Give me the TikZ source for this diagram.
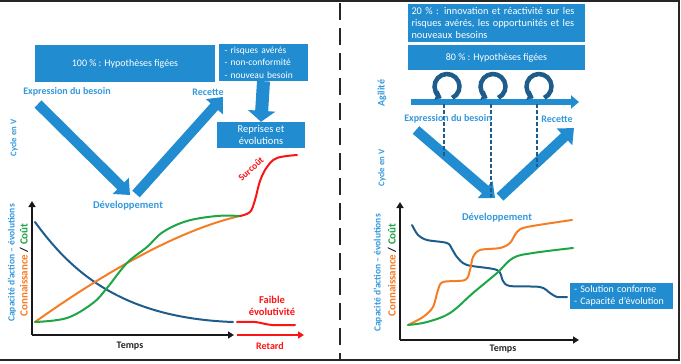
\documentclass[tikz,border=0pt]{standalone}
\usepackage{fontspec}
\setmainfont{Carlito}
\usetikzlibrary{arrows.meta,calc}
\definecolor{boxblue}{RGB}{33,140,208}
\definecolor{lblblue}{RGB}{52,152,219}
\definecolor{dkblue}{RGB}{30,92,140}
\definecolor{corange}{RGB}{245,125,35}
\definecolor{cgreen}{RGB}{30,165,70}
\definecolor{cred}{RGB}{250,20,20}
\begin{document}
\begin{tikzpicture}[x=1pt,y=-1pt,
  box/.style={fill=boxblue, text=white, font=\fontsize{10}{12}\selectfont, inner sep=2pt},
  lbl/.style={text=lblblue, font=\bfseries\fontsize{10}{12}\selectfont, inner sep=1pt},
  redlbl/.style={text=cred, font=\bfseries\fontsize{10}{12}\selectfont, inner sep=1pt, align=center},
  blk/.style={text=black!85, font=\bfseries\fontsize{10}{12}\selectfont, inner sep=1pt},
  axlbl/.style={text=lblblue, font=\bfseries\fontsize{9.5}{11}\selectfont, inner sep=1pt, rotate=90},
  axlblb/.style={font=\bfseries\fontsize{11}{13}\selectfont, inner sep=1pt, rotate=90},
  fat/.style={boxblue, line width=10pt, -{Triangle[width=22pt,length=13pt]}},
  curve/.style={line width=2pt, line cap=round, line join=round},
  axis/.style={black!90, line width=1.8pt, -{Triangle[width=7pt,length=6pt]}},
  dashline/.style={dkblue, line width=1.5pt, dash pattern=on 4pt off 2pt},
  loopar/.style={dkblue, line width=4.5pt, -{Triangle[width=10pt,length=6pt]}},
]
\useasboundingbox (0,0) rectangle (681,364);
% frame
\draw[black!85, line width=2pt] (0,1) -- (679,1) -- (679,359.5) -- (0,359.5);
\draw[black!85, line width=2pt, dash pattern=on 17pt off 8pt] (340,3) -- (340,360);

%================ LEFT PANEL ================
\node[box, minimum width=180, minimum height=37] (hyp) at (125,63.5) {100 \% : Hypothèses figées};
\node[box, minimum width=89, minimum height=37, text width=78, align=left, font=\fontsize{9.5}{12.5}\selectfont] (risk) at (263.5,62.5) {- risques avérés\\- non-conformité\\- nouveau besoin};
\node[box, minimum width=88, minimum height=26, align=center, font=\fontsize{10.5}{12.5}\selectfont] (rep) at (261,135) {Reprises et\\évolutions};
\draw[boxblue, line width=13pt, -{Triangle[width=27pt,length=11pt]}] (risk.south) -- (rep.north);

\node[lbl] (exp1) at (67,92) {Expression du besoin};
\node[lbl] (rec1) at (208,92) {Recette};
\node[lbl, font=\bfseries\fontsize{10.5}{12}\selectfont] (dev1) at (128,206) {Développement};
\node[lbl, rotate=90, font=\bfseries\fontsize{8.7}{10}\selectfont] (cyc1) at (14,138) {Cycle en V};

\coordinate (v1a) at (38,104);
\coordinate (v1b) at (130,195);
\coordinate (v1c) at (136,194);
\coordinate (v1d) at (223,97);
\draw[fat] (v1a) -- (v1b);
\draw[fat] (v1c) -- (v1d);

% axes
\coordinate (o1) at (32,335);
\coordinate (y1) at (32,201);
\coordinate (x1) at (234,335);
\coordinate (r1a) at (237,335);
\coordinate (r1b) at (304,335);
\draw[axis] (o1) -- (y1);
\draw[axis] (o1) -- (x1);
\draw[cred, line width=1.8pt, -{Triangle[width=7pt,length=6pt]}] (r1a) -- (r1b);

\node[blk] (tps1) at (130,346) {Temps};
\node[redlbl] (ret1) at (270,346) {Retard};
\node[redlbl, font=\bfseries\fontsize{10.5}{12.5}\selectfont] (fai1) at (272,306) {Faible\\évolutivité};
\node[axlbl] (cap1) at (12,263) {Capacité d'action – évolutions};
\node[axlblb] (con1) at (24,270) {\textcolor{corange}{Connaissance} \textcolor{black}{/} \textcolor{cgreen}{Coût}};

% curves
\draw[curve, dkblue] (35,222) .. controls (70,270) and (120,318) .. (233,322);
\draw[curve, corange] (35,322) .. controls (90,283) and (170,232) .. (240,216);
\draw[curve, cgreen] plot[smooth, tension=0.6] coordinates {(35,322) (67,318) (93,303) (107,288) (127,263) (147,247) (163,232) (187,221) (217,216) (240,216)};
\draw[curve, cred] plot[smooth, tension=0.6] coordinates {(240,216) (250,212) (255,200) (260,181) (267,167) (277,158) (297,155)};
\draw[curve, cred] plot[smooth, tension=0.6] coordinates {(237,322) (255,322) (272,325) (295,325)};
\node[redlbl, rotate=42, font=\bfseries\fontsize{9.5}{11}\selectfont, inner sep=0pt] (sur1) at (251,169) {Surcoût};

%================ RIGHT PANEL ================
\node[box, minimum width=177, minimum height=38, text width=170, align=left, font=\fontsize{10.3}{12}\selectfont] (inn) at (496.5,23) {20 \% : innovation et réactivité sur les\\risques avérés, les opportunités et les\\nouveaux besoins};
\node[box, minimum width=177, minimum height=25] (hyp2) at (496.5,57.5) {80 \% : Hypothèses figées};

\node[lbl, rotate=90] (agi) at (382,93) {Agilité};
\node[lbl, rotate=90, font=\bfseries\fontsize{8.7}{10}\selectfont] (cyc2) at (382,168) {Cycle en V};

\coordinate (ha) at (411,102);
\coordinate (hb) at (579,102);
\draw[boxblue, line width=6pt, -{Triangle[width=13pt,length=8pt]}] (ha) -- (hb);

% V
\coordinate (v2a) at (416,130);
\coordinate (v2b) at (495,198);
\coordinate (v2c) at (500,197);
\coordinate (v2d) at (574,128);
\draw[fat] (v2a) -- (v2b);
\draw[fat] (v2c) -- (v2d);

% dashed lines
\coordinate (d1a) at (444,104); \coordinate (d1b) at (444,157);
\coordinate (d2a) at (491,104); \coordinate (d2b) at (491,197);
\coordinate (d3a) at (537,104); \coordinate (d3b) at (537,167);
\draw[dashline] (d1a) -- (d1b);
\draw[dashline] (d2a) -- (d2b);
\draw[dashline] (d3a) -- (d3b);

% loops
\foreach \cx/\nm in {447/l1, 493/l2, 539/l3}{
  \coordinate (\nm) at (\cx,86.5);
  \draw[loopar] ($(\nm)+(65:12.5)$) arc[start angle=65, end angle=-245, radius=12.5];
}

\node[lbl] (exp2) at (448,119) {Expression du besoin};
\node[lbl] (rec2) at (557,119) {Recette};
\node[lbl, font=\bfseries\fontsize{10.5}{12}\selectfont] (dev2) at (497,218) {Développement};

% axes
\coordinate (o2) at (400,340);
\coordinate (y2) at (400,202);
\coordinate (x2) at (579,340);
\draw[axis] (o2) -- (y2);
\draw[axis] (o2) -- (x2);
\node[blk] (tps2) at (503,349) {Temps};
\node[axlbl] (cap2) at (378,273) {Capacité d'action – évolutions};
\node[axlblb] (con2) at (392,270) {\textcolor{corange}{Connaissance} \textcolor{black}{/} \textcolor{cgreen}{Coût}};

\draw[curve, dkblue] plot[smooth, tension=0.5] coordinates {(412,225) (418,235) (427,240) (447,243) (452,249) (457,257) (467,265) (497,270) (503,281) (510,286) (540,287) (550,293) (557,297) (567,297)};
\draw[curve, corange] plot[smooth, tension=0.5] coordinates {(408,325) (423,317) (433,307) (438,290) (443,282) (465,280) (470,270) (473,257) (480,250) (500,248) (510,243) (517,232) (527,227) (572,220)};
\draw[curve, cgreen] plot[smooth, tension=0.6] coordinates {(408,325) (427,322) (450,313) (473,293) (497,273) (513,258) (533,253) (573,248)};

\node[box, minimum width=103, minimum height=26, text width=95, align=left, font=\fontsize{10}{12}\selectfont] (sol) at (621.5,296) {- Solution conforme\\- Capacité d'évolution};
\end{tikzpicture}
\end{document}
